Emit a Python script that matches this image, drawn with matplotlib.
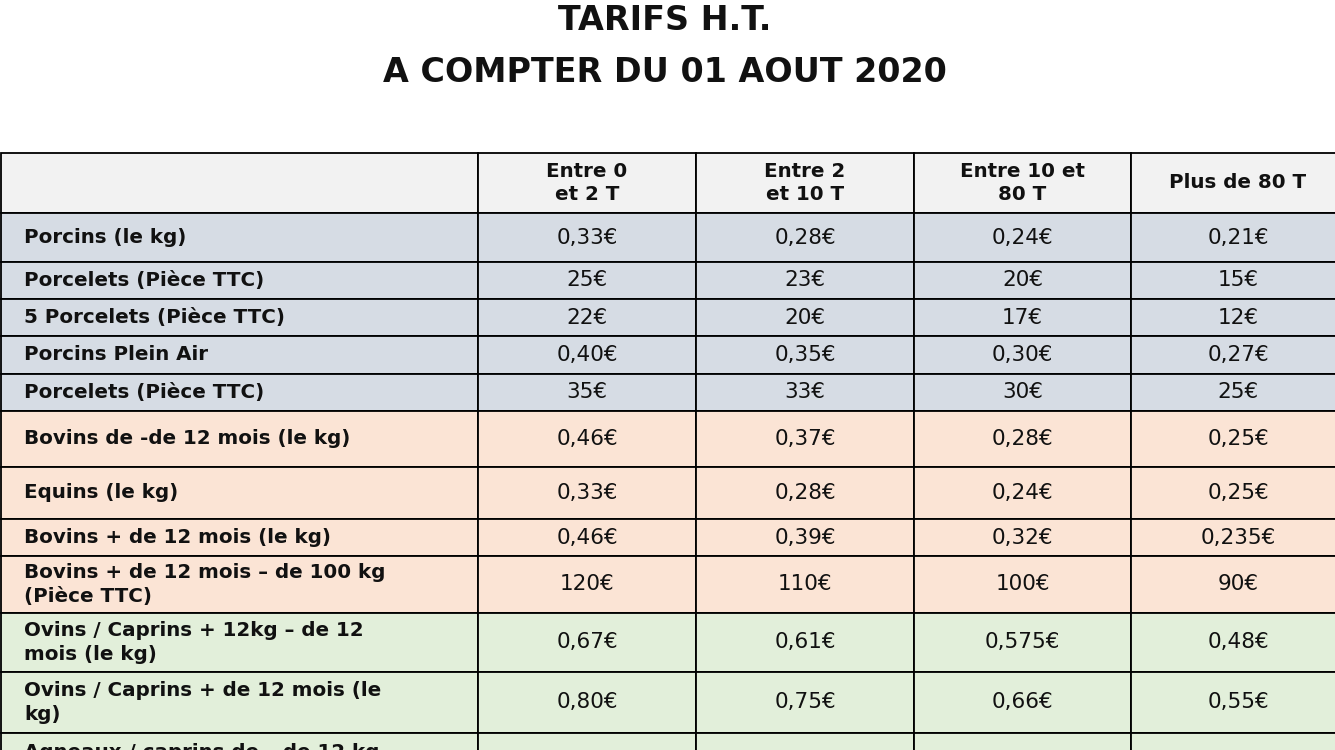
import matplotlib.pyplot as plt
from matplotlib.patches import Rectangle

# -----------------------------
# DATA
# -----------------------------
title_lines = ["TARIFS H.T.", "A COMPTER DU 01 AOUT 2020"]

col_headers = ["Entre 0\net 2 T", "Entre 2\net 10 T", "Entre 10 et\n80 T", "Plus de 80 T"]

row_labels = [
    "Porcins (le kg)",
    "Porcelets (Pièce TTC)",
    "5 Porcelets (Pièce TTC)",
    "Porcins Plein Air",
    "Porcelets (Pièce TTC)",
    "Bovins de -de 12 mois (le kg)",
    "Equins (le kg)",
    "Bovins + de 12 mois (le kg)",
    "Bovins + de 12 mois \u2013 de 100 kg\n(Pièce TTC)",
    "Ovins / Caprins + 12kg \u2013 de 12\nmois (le kg)",
    "Ovins / Caprins + de 12 mois (le\nkg)",
    "Agneaux / caprins de \u2013 de 12 kg\n(le kg)",
]

entre_0_2 = ["0,33€", "25€", "22€", "0,40€", "35€", "0,46€", "0,33€", "0,46€", "120€", "0,67€", "0,80€", ""]
entre_2_10 = ["0,28€", "23€", "20€", "0,35€", "33€", "0,37€", "0,28€", "0,39€", "110€", "0,61€", "0,75€", ""]
entre_10_80 = ["0,24€", "20€", "17€", "0,30€", "30€", "0,28€", "0,24€", "0,32€", "100€", "0,575€", "0,66€", ""]
plus_80 = ["0,21€", "15€", "12€", "0,27€", "25€", "0,25€", "0,25€", "0,235€", "90€", "0,48€", "0,55€", ""]

row_groups = ["porc"] * 5 + ["bovin"] * 4 + ["ovin"] * 3

# -----------------------------
# LAYOUT / STYLE
# -----------------------------
group_colors = {"porc": "#D6DCE4", "bovin": "#FBE4D5", "ovin": "#E2EFDA"}
header_color = "#F2F2F2"

col_edges = [1, 478, 696, 914, 1131, 1345]
row_edges = [153, 213, 262, 299, 336, 374, 411, 467, 519, 556, 613, 672, 733, 795]

W, H = 1335, 750
fig = plt.figure(figsize=(W / 100, H / 100), dpi=100)
ax = fig.add_axes([0, 0, 1, 1])
ax.set_xlim(0, W)
ax.set_ylim(H, 0)
ax.axis("off")

font = "DejaVu Sans"
fs_label = 14.3
fs_value = 15.5
fs_title = 24
ink = "#111111"

# title
ax.text(665, 20, title_lines[0], ha="center", va="center", fontsize=fs_title,
        fontweight="bold", family=font, color=ink)
ax.text(665, 73, title_lines[1], ha="center", va="center", fontsize=fs_title,
        fontweight="bold", family=font, color=ink)

columns = [entre_0_2, entre_2_10, entre_10_80, plus_80]

# header row
top, bot = row_edges[0], row_edges[1]
for j in range(5):
    x0, x1 = col_edges[j], col_edges[j + 1]
    ax.add_patch(Rectangle((x0, top), x1 - x0, bot - top, facecolor=header_color,
                           edgecolor="black", linewidth=1.3))
    if j > 0:
        ax.text((x0 + x1) / 2, (top + bot) / 2, col_headers[j - 1], ha="center",
                va="center", fontsize=fs_label, fontweight="bold", family=font,
                linespacing=1.22, color=ink)

# body rows
for i, label in enumerate(row_labels):
    top, bot = row_edges[i + 1], row_edges[i + 2]
    color = group_colors[row_groups[i]]
    for j in range(5):
        x0, x1 = col_edges[j], col_edges[j + 1]
        ax.add_patch(Rectangle((x0, top), x1 - x0, bot - top, facecolor=color,
                               edgecolor="black", linewidth=1.3))
    ax.text(24, (top + bot) / 2, label, ha="left", va="center", fontsize=fs_label,
            fontweight="bold", family=font, linespacing=1.28, color=ink)
    for j, col in enumerate(columns):
        x0, x1 = col_edges[j + 1], col_edges[j + 2]
        ax.text((x0 + x1) / 2, (top + bot) / 2, col[i], ha="center", va="center",
                fontsize=fs_value, family=font, color=ink)

fig.savefig("out.png", dpi=100)
